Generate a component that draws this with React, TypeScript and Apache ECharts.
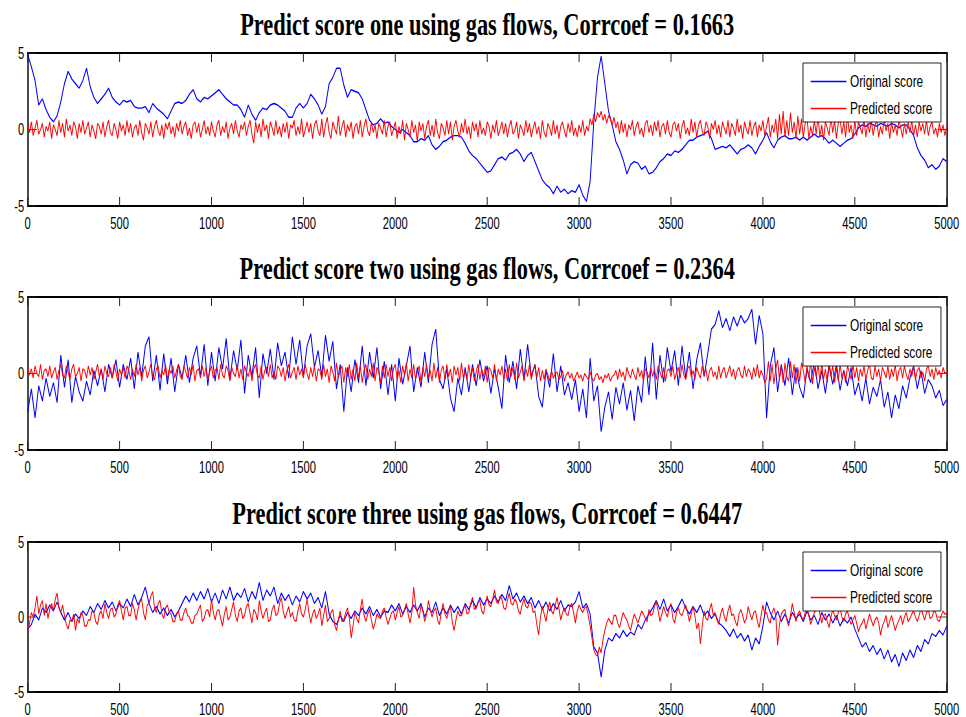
import { useEffect, useRef } from "react";
import * as echarts from "echarts";

// x spacing of the samples in each array (sample index i -> x = i * step)
const ORIGINAL_STEP = 20;
const PREDICTED_STEP = 10;
const X_MIN = 0;
const X_MAX = 5000;
const X_INTERVAL = 500;
const Y_MIN = -5;
const Y_MAX = 5;
const Y_INTERVAL = 5;
const X_TICKS = [0, 500, 1000, 1500, 2000, 2500, 3000, 3500, 4000, 4500, 5000];
const Y_TICKS = [-5, 0, 5];

const TITLES = [
  "Predict score one using gas flows, Corrcoef = 0.1663",
  "Predict score two using gas flows, Corrcoef = 0.2364",
  "Predict score three using gas flows, Corrcoef = 0.6447",
];
const SERIES_NAMES = ["Original score", "Predicted score"];

// All score values below are stored in tenths of a unit (e.g. 49 = 4.9)
const originalOne = [
  49,41,32,16,20,13,8,5,9,18,
  30,38,33,30,27,32,40,28,21,17,
  20,23,27,21,18,16,19,18,19,15,
  14,14,15,11,17,14,12,10,7,12,
  17,18,17,19,23,26,20,18,21,20,
  22,24,26,23,20,18,16,16,13,8,
  16,10,6,11,14,13,16,17,16,14,
  12,8,8,14,17,14,17,23,20,16,
  10,15,30,34,40,40,29,21,26,25,
  24,20,13,6,3,4,7,4,5,2,
  0,-2,0,-2,-4,-8,-8,-6,-7,-4,
  -10,-13,-11,-8,-7,-5,-4,-4,-5,-9,
  -14,-17,-19,-22,-25,-28,-27,-23,-19,-18,
  -20,-16,-15,-13,-16,-21,-17,-15,-21,-27,
  -33,-36,-38,-42,-37,-41,-39,-42,-40,-41,
  -36,-43,-47,-34,5,34,48,30,12,3,
  -8,-13,-20,-29,-23,-21,-22,-26,-24,-29,
  -28,-25,-21,-19,-16,-17,-14,-15,-13,-10,
  -7,-7,-5,-4,-3,-1,-6,-13,-12,-11,
  -12,-10,-13,-16,-13,-12,-10,-12,-16,-11,
  -7,-2,-8,-12,-7,-5,-4,-6,-6,-5,
  -7,-5,-7,-5,-3,-5,-4,-6,-9,-7,
  -9,-11,-9,-7,-6,-3,1,3,2,4,
  3,2,4,3,2,4,3,1,3,3,
  0,-4,-12,-17,-20,-25,-23,-26,-24,-19,
  -21,
];
const predictedOne = [
  3,-2,5,-4,1,6,-3,0,4,-5,2,-1,5,-6,3,0,-4,6,-2,4,
  -5,7,-1,3,-4,5,2,-6,4,-2,6,-3,1,5,-5,3,-1,-6,4,2,
  -3,5,-5,2,6,-2,-4,4,0,-6,5,-1,3,-4,6,-2,4,-5,1,3,
  -4,6,-2,-7,4,1,-3,5,-5,2,6,-1,-4,3,-6,4,0,5,-3,2,
  -5,4,-1,6,-3,2,5,-4,1,-6,3,5,-2,4,-5,0,6,-3,2,-4,
  5,-1,-5,3,6,-4,2,-2,5,-6,1,4,-3,6,-1,-5,3,0,5,-4,
  2,6,-3,-9,5,-2,4,-5,7,-1,3,-6,5,1,-4,6,-3,2,-5,4,
  -2,5,-6,3,1,6,-4,2,-3,7,-5,0,5,-2,4,-6,3,6,-1,-4,
  7,-5,3,8,-2,-6,5,1,-3,9,-4,2,6,-5,3,-1,5,-6,2,4,
  -3,6,-5,2,7,-1,-4,5,-2,3,-6,4,1,-3,6,-5,2,5,-4,0,
  5,-6,2,-3,6,-7,4,0,-5,6,-2,3,-8,5,-1,4,-6,2,6,-4,
  3,-5,7,-2,-6,4,1,-4,6,-3,5,-7,2,6,-1,-5,4,-2,7,-3,
  2,-6,5,-1,4,-5,6,-3,1,-4,5,2,-6,3,-2,6,-4,0,5,-3,
  4,-5,2,6,-3,-1,5,-6,3,0,-4,6,-2,4,-5,1,5,-3,2,-6,
  6,-2,-5,4,1,-4,6,-3,3,-6,2,5,-1,-5,4,-2,6,-4,1,-5,
  3,-2,6,-4,2,-1,7,3,10,5,11,8,12,6,10,4,9,7,3,8,
  1,5,-3,6,-2,4,-5,3,0,6,-4,2,5,-3,1,-5,4,6,-2,3,
  -4,5,-1,6,-5,2,4,-3,6,-2,-5,3,5,-1,4,-6,2,6,-3,1,
  -4,7,-2,5,-5,3,6,-1,-4,5,2,-6,4,0,6,-3,3,-5,5,1,
  -3,6,-5,4,1,-4,7,-2,3,-6,5,0,-3,6,-4,2,5,-5,3,-1,
  6,-4,2,8,-5,3,-2,7,-6,10,-3,12,-5,6,-4,11,-2,5,-6,9,
  -3,7,-5,4,8,-6,2,-4,6,-3,9,-5,3,-7,5,1,-4,8,-2,6,
  -6,4,7,-3,5,-5,9,-2,3,-6,6,-4,5,1,-3,7,-5,4,-2,6,
  -4,3,6,-5,2,-3,7,-1,4,-6,5,-2,3,-4,6,1,-5,4,-3,5,
  -2,6,-4,3,-5,5,-1,4,-3,6,-4,2,5,-3,1,-5,4,-2,3,-4,
  2,
];
const originalTwo = [
  -25,-10,-29,-8,-18,-3,-15,-6,-19,12,
  -9,9,-19,-2,-12,-18,-5,-14,2,-8,
  3,-12,6,-3,9,-9,6,-4,10,-10,
  14,-2,18,24,-5,12,-11,13,-7,10,
  -12,6,-3,12,-6,10,18,-2,19,-8,
  14,-5,17,3,23,-4,15,2,22,-13,
  12,-2,17,-16,13,0,16,-4,20,5,
  14,-3,24,6,22,-2,18,26,4,15,
  -2,25,8,21,-10,6,-25,4,-12,9,
  -6,18,-8,14,-3,17,-10,8,-14,6,
  -18,10,-7,5,18,-12,4,-9,14,-6,
  19,29,-4,-10,3,-16,-25,-3,-14,4,
  -12,6,-8,9,-5,5,-13,3,-9,-23,
  12,-6,8,-10,16,-4,19,-2,6,-15,
  -22,2,-9,13,-12,5,-14,-6,-17,-4,
  -25,-10,-29,10,-18,-8,-38,-22,-12,-30,
  -9,-20,-6,-24,-11,-31,-8,-19,11,-14,
  20,-17,12,-6,17,1,15,-8,18,-3,
  14,-10,9,20,-2,13,29,32,41,30,
  36,28,37,31,38,33,36,42,19,38,
  26,-29,5,17,-12,6,-8,10,-14,4,
  -9,-16,3,-6,8,-10,2,-13,5,-7,
  6,-11,2,-8,4,-14,-6,-18,-3,-20,
  -9,-15,-4,-22,-12,-29,-14,-23,-8,-16,
  -3,5,-10,2,-13,-4,-8,-16,-11,-21,
  -17,
];
const predictedTwo = [
  4,-1,3,-3,5,0,-2,6,-4,2,3,-2,5,-3,1,4,-4,2,6,-1,
  -3,5,1,-4,3,6,-2,0,4,-5,3,2,-3,5,-1,4,-4,1,6,-2,
  3,-4,5,0,-2,4,-3,6,1,-5,3,-1,4,-3,5,2,-4,3,-2,6,
  -1,4,-5,2,5,-3,1,6,-2,-4,3,5,-3,2,-1,6,-4,3,0,5,
  -3,2,6,-2,-4,5,1,-3,4,-1,6,-5,2,3,-3,5,-2,4,-4,1,
  5,-3,2,4,-4,6,-1,-3,5,2,-5,4,0,-2,6,-3,3,-4,5,1,
  -2,4,-5,3,6,-1,-3,5,-4,2,4,-2,6,-3,1,-4,5,3,-2,4,
  -5,2,6,-3,1,4,-4,5,-1,3,-3,6,0,-4,4,-2,5,-5,3,2,
  -4,6,-2,3,-6,5,1,-5,7,-3,2,5,-6,4,-2,6,-4,3,-5,7,
  -3,5,-6,2,6,-4,3,-2,7,-5,4,1,-6,5,-3,6,-2,4,-5,3,
  6,-4,2,-6,5,-1,7,-5,3,-3,6,-4,1,5,-6,4,-2,6,-3,2,
  -5,7,-3,4,-6,2,5,-4,6,-2,3,-6,5,-1,4,-5,7,-3,2,-4,
  6,-3,4,-5,1,6,-4,3,-2,5,-6,4,2,-3,6,-5,3,-1,5,-4,
  3,-5,6,-2,4,-4,7,-3,1,5,-5,3,-2,6,-4,2,5,-3,4,-5,
  2,-4,3,-1,-5,2,-3,0,1,-4,-2,2,-5,-1,1,-3,0,-5,-2,1,
  -3,-1,-5,0,-2,-4,1,-3,-5,-1,0,-4,-2,-6,-1,-3,0,-5,-2,-1,
  2,-4,3,-2,1,-5,4,0,-3,3,-1,-4,4,-2,2,-5,3,1,-3,4,
  -2,3,-4,5,1,-3,4,-5,2,3,-2,5,-4,1,4,-3,6,-1,-4,3,
  5,-2,2,-4,4,0,-3,5,-1,3,-5,2,4,-2,1,-4,5,-3,2,4,
  -3,1,5,-2,3,-4,2,4,-1,-3,5,-2,3,1,-4,4,-2,6,-3,2,
  -1,-6,-3,8,-5,6,-7,3,9,-4,5,-6,7,-2,-5,8,-3,6,-7,4,
  -5,7,2,-6,5,-3,8,-7,4,-2,6,-5,7,-4,3,-6,8,-2,5,-6,
  4,-5,6,-3,2,-6,5,1,-4,6,-3,4,-5,3,-2,5,-4,2,6,-3,
  -4,5,-2,3,-5,4,1,-3,5,-4,3,-2,6,-5,2,4,-3,5,-1,-4,
  3,-2,5,-4,2,4,-3,1,-5,3,5,-2,3,-4,4,-1,2,-3,4,0,
  1,
];
const originalThree = [
  -8,-5,2,-2,6,3,8,4,10,3,
  -2,3,-3,2,-1,4,1,7,3,9,
  5,11,6,10,4,9,6,12,7,15,
  8,13,20,9,3,7,2,6,1,5,
  0,4,9,14,10,16,11,17,12,19,
  10,16,9,18,12,20,11,16,13,19,
  10,17,12,23,11,18,14,20,9,16,
  11,15,8,14,10,17,12,16,9,13,
  6,17,2,-3,-5,1,-3,3,-1,4,
  1,6,2,7,1,5,0,4,3,8,
  4,9,2,7,3,8,4,9,0,6,
  3,10,1,6,2,8,3,7,2,9,
  5,11,6,13,8,12,9,14,10,15,
  11,21,12,16,10,14,9,13,6,11,
  5,10,4,9,5,11,4,8,7,10,
  17,6,9,2,-20,-24,-40,-22,-14,-16,
  -11,-14,-9,-13,-10,-12,-5,-8,-2,2,
  6,11,5,12,4,8,3,7,12,6,
  2,7,3,8,1,4,-1,2,-4,-6,
  -9,-13,-8,-14,-11,-16,-12,-22,-14,-18,
  -6,10,3,-2,4,-3,2,-4,3,-1,
  2,-3,4,-2,1,-5,3,-2,2,-4,
  1,-6,-1,-4,0,-8,-14,-20,-17,-23,
  -19,-25,-21,-28,-22,-30,-25,-33,-24,-29,
  -22,-27,-19,-23,-15,-18,-11,-13,-9,-12,
  -6,
];
const predictedThree = [
  -9,-4,3,0,6,14,2,8,11,1,9,-1,5,9,4,12,16,6,3,8,
  1,-5,-8,-2,-3,2,-9,-1,-4,3,1,-6,-6,-2,-2,4,3,-3,-5,2,
  4,-1,9,3,-1,5,6,0,2,8,11,4,-2,6,7,1,1,9,5,-2,
  5,10,12,3,-2,8,9,14,17,6,3,9,11,2,-1,6,8,3,2,-3,
  -3,2,4,-2,-2,3,6,1,0,-4,-4,1,2,5,8,-3,-1,4,5,0,
  12,3,-2,4,5,-1,-6,2,7,-2,0,5,10,1,-3,4,6,-1,1,7,
  9,2,-4,5,3,-2,11,4,-1,3,6,-3,-2,5,8,1,2,9,13,4,
  -1,3,7,0,3,-2,-3,4,9,2,0,5,12,3,-4,2,5,-1,2,6,
  -6,1,8,-3,-1,3,5,-5,-9,-2,4,-3,-2,3,6,-1,-14,-6,3,-1,
  -4,5,12,1,-3,2,5,-2,-8,-4,2,0,-1,4,6,0,-5,-1,3,4,
  -2,3,7,0,1,5,9,2,-4,3,20,8,3,-1,8,4,-3,2,11,5,
  0,4,6,-2,-5,3,9,2,-1,4,7,-3,-9,-2,4,1,1,5,8,2,
  3,9,13,5,6,10,11,4,2,9,14,8,7,12,18,10,9,14,12,6,
  5,11,16,9,8,12,10,4,2,8,12,7,6,10,9,3,4,-5,-12,0,
  7,2,-3,5,10,4,2,8,13,6,-2,3,6,2,1,7,9,3,-4,4,
  8,5,3,6,7,1,-6,-14,-22,-25,-26,-20,-24,-15,-9,-4,-1,-3,-5,1,
  1,-4,-7,-2,3,0,-2,-6,-9,-3,2,-1,-4,0,4,2,-1,-3,5,1,
  2,7,10,4,-3,2,7,3,0,6,9,-1,-4,3,6,2,1,5,8,3,
  -3,2,7,1,-8,-4,-18,-6,4,-1,-2,5,9,1,3,-2,-5,2,6,0,
  -3,4,8,1,2,-3,-6,2,5,1,-4,-1,7,2,-2,3,4,-3,-7,1,
  8,2,3,-2,-4,3,6,1,-19,-5,2,4,5,-2,-6,1,9,3,-3,2,
  4,0,-2,3,7,1,-5,-1,3,5,8,2,-4,1,2,-3,-7,0,5,1,
  -2,3,6,0,-3,2,4,-1,-5,-2,1,-4,-10,-6,-4,-1,-8,-3,2,-2,
  -6,-2,0,-4,-12,-6,-3,1,-7,-3,1,-4,-9,-5,-2,1,-5,0,3,-3,
  -1,2,4,0,-3,1,6,2,-2,3,5,-1,0,4,3,-2,-3,1,4,2,
  2,
];

const PANELS = [
  { original: originalOne, predicted: predictedOne },
  { original: originalTwo, predicted: predictedTwo },
  { original: originalThree, predicted: predictedThree },
];

// The reference figure is horizontally compressed; render wide and squeeze.
const SQUEEZE = 0.7;
const PAGE_W = 966;
const PAGE_H = 717;
const CHART_W = PAGE_W / SQUEEZE;

const GRID_TOPS = [53, 297, 542];
const GRID_HEIGHTS = [153, 153, 152];
const GRID_LEFT = 27.7 / SQUEEZE;
const GRID_RIGHT = (PAGE_W - 946.7) / SQUEEZE;
const X_TICK_LEN = 9;
const Y_TICK_LEN = 13;
const TICK_COLOR = "#222";

const SANS = '"Liberation Sans", Arial, Helvetica, sans-serif';
const SERIF = '"Liberation Serif", "Times New Roman", serif';

const toPairs = (vals: number[], step: number) => vals.map((v, i) => [i * step, v / 10]);

// inward tick marks on all four sides, placed through the axis scales
function tickSeries(k: number) {
  const data: any[] = [
    ...X_TICKS.map((v) => [v, 0, 0]),
    ...Y_TICKS.map((v) => [0, v, 1]),
  ];
  return {
    type: "custom", xAxisIndex: 2 * k, yAxisIndex: 2 * k, data, silent: true, z: 1, clip: false,
    encode: { x: 0, y: 1 },
    renderItem: (_params: any, api: any) => {
      const kind = api.value(2);
      const style = { stroke: TICK_COLOR, lineWidth: kind === 0 ? 1.4 : 1 };
      if (kind === 0) {
        const x = api.value(0);
        const top = api.coord([x, Y_MAX]);
        const bot = api.coord([x, Y_MIN]);
        return {
          type: "group",
          children: [
            { type: "line", shape: { x1: top[0], y1: top[1], x2: top[0], y2: top[1] + X_TICK_LEN }, style },
            { type: "line", shape: { x1: bot[0], y1: bot[1], x2: bot[0], y2: bot[1] - X_TICK_LEN }, style },
          ],
        };
      }
      const y = api.value(1);
      const left = api.coord([X_MIN, y]);
      const right = api.coord([X_MAX, y]);
      return {
        type: "group",
        children: [
          { type: "line", shape: { x1: left[0], y1: left[1], x2: left[0] + Y_TICK_LEN, y2: left[1] }, style },
          { type: "line", shape: { x1: right[0], y1: right[1], x2: right[0] - Y_TICK_LEN, y2: right[1] }, style },
        ],
      };
    },
  };
}

function buildOption() {
  const grid: any[] = [];
  const xAxis: any[] = [];
  const yAxis: any[] = [];
  const series: any[] = [];
  const title: any[] = [];
  const legend: any[] = [];
  const axisCenter = GRID_LEFT + (CHART_W - GRID_LEFT - GRID_RIGHT) / 2;
  const lineAxis = { show: true, onZero: false, lineStyle: { color: "#000", width: 2 } };

  PANELS.forEach((p, k) => {
    grid.push({ left: GRID_LEFT, right: GRID_RIGHT, top: GRID_TOPS[k], height: GRID_HEIGHTS[k] });
    const xBase = {
      gridIndex: k, type: "value", min: X_MIN, max: X_MAX, interval: X_INTERVAL,
      axisLine: lineAxis, splitLine: { show: false }, minorTick: { show: false },
      axisTick: { show: false },
    };
    xAxis.push({
      ...xBase, position: "bottom",
      axisLabel: {
        show: true, margin: 9, fontSize: 16, fontFamily: SANS, color: "#000",
        formatter: (v: number) => String(v),
      },
    });
    xAxis.push({ ...xBase, position: "top", axisLabel: { show: false } });
    const yBase = {
      gridIndex: k, type: "value", min: Y_MIN, max: Y_MAX, interval: Y_INTERVAL,
      axisLine: lineAxis, splitLine: { show: false }, axisTick: { show: false },
    };
    yAxis.push({
      ...yBase, position: "left",
      axisLabel: { show: true, margin: 5, fontSize: 16, fontFamily: SANS, color: "#000", padding: [4, 0, 0, 0] },
    });
    yAxis.push({ ...yBase, position: "right", axisLabel: { show: false } });

    series.push(tickSeries(k));
    series.push({
      name: SERIES_NAMES[0], type: "line", xAxisIndex: 2 * k, yAxisIndex: 2 * k,
      data: toPairs(p.original, ORIGINAL_STEP), symbol: "none", showSymbol: false,
      lineStyle: { color: "#0000ff", width: 1.4 }, itemStyle: { color: "#0000ff" }, z: 2,
    });
    series.push({
      name: SERIES_NAMES[1], type: "line", xAxisIndex: 2 * k, yAxisIndex: 2 * k,
      data: toPairs(p.predicted, PREDICTED_STEP), symbol: "none", showSymbol: false,
      lineStyle: { color: "#ff0000", width: 1.3 }, itemStyle: { color: "#ff0000" }, z: 3,
    });

    title.push({
      text: TITLES[k], left: axisCenter, textAlign: "center", top: GRID_TOPS[k] - 45.5, padding: 0,
      textStyle: { fontFamily: SERIF, fontWeight: "bold", fontSize: 32, color: "#000" },
    });
    legend.push({
      data: SERIES_NAMES, orient: "vertical", left: 803 / SQUEEZE, top: GRID_TOPS[k] + 10,
      icon: "rect", itemWidth: 51, itemHeight: 1.4, itemGap: 10, padding: [10, 12, 5, 11],
      backgroundColor: "#fff", borderColor: "#000", borderWidth: 1, selectedMode: false,
      textStyle: { fontSize: 17, lineHeight: 14, fontFamily: SANS, color: "#000" }, z: 10,
    });
  });

  return { animation: false, backgroundColor: "#fff", grid, xAxis, yAxis, series, title, legend };
}

export default function App() {
  const ref = useRef<HTMLDivElement>(null);
  useEffect(() => {
    if (!ref.current) return;
    const chart = echarts.init(ref.current, undefined, { renderer: "svg" });
    chart.setOption(buildOption() as any);
    return () => chart.dispose();
  }, []);
  return (
    <div style={{ position: "fixed", left: 0, top: 0, width: PAGE_W, height: PAGE_H, overflow: "hidden", background: "#fff" }}>
      <div
        ref={ref}
        style={{ width: CHART_W, height: PAGE_H, transform: `scaleX(${SQUEEZE})`, transformOrigin: "0 0" }}
      />
    </div>
  );
}
